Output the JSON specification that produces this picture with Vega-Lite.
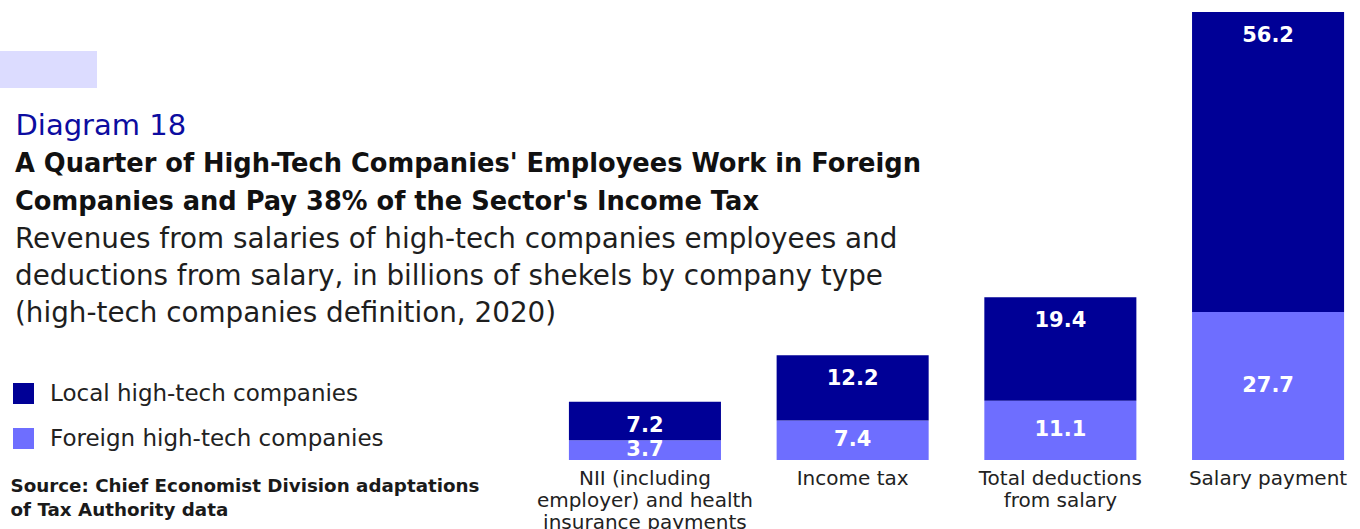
{
  "$schema": "https://vega.github.io/schema/vega-lite/v6.json",
  "width": 803,
  "height": 448,
  "autosize": {"type": "none"},
  "padding": {"left": 555, "top": 12, "right": 2, "bottom": 69},
  "background": "white",
  "config": {
    "font": "DejaVu Sans",
    "view": {"stroke": null}
  },
  "title": {
    "text": ["A Quarter of High-Tech Companies' Employees Work in Foreign", "Companies and Pay 38% of the Sector's Income Tax"],
    "subtitle": ["Revenues from salaries of high-tech companies employees and", "deductions from salary, in billions of shekels by company type", "(high-tech companies definition, 2020)"],
    "anchor": "start",
    "frame": "group",
    "orient": "top",
    "offset": 0,
    "dx": -540,
    "dy": 317,
    "font": "DejaVu Sans",
    "fontSize": 25.7,
    "fontWeight": "bold",
    "color": "#111111",
    "lineHeight": 38,
    "subtitleFont": "DejaVu Sans",
    "subtitleFontSize": 27.8,
    "subtitleFontWeight": "normal",
    "subtitleColor": "#1e1e1e",
    "subtitleLineHeight": 37,
    "subtitlePadding": 11
  },
  "data": {
    "values": [
      {"category": "NII (including employer) and health insurance payments", "type": "Foreign high-tech companies", "value": 3.7},
      {"category": "NII (including employer) and health insurance payments", "type": "Local high-tech companies", "value": 7.2},
      {"category": "Income tax", "type": "Foreign high-tech companies", "value": 7.4},
      {"category": "Income tax", "type": "Local high-tech companies", "value": 12.2},
      {"category": "Total deductions from salary", "type": "Foreign high-tech companies", "value": 11.1},
      {"category": "Total deductions from salary", "type": "Local high-tech companies", "value": 19.4},
      {"category": "Salary payment", "type": "Foreign high-tech companies", "value": 27.7},
      {"category": "Salary payment", "type": "Local high-tech companies", "value": 56.2}
    ]
  },
  "resolve": {"scale": {"y": "independent"}},
  "layer": [
    {
      "mark": {"type": "bar"},
      "encoding": {
        "x": {
          "field": "category",
          "type": "nominal",
          "sort": null,
          "scale": {"paddingInner": 0.268, "paddingOuter": 0.067},
          "axis": {
            "title": ["Source: Chief Economist Division adaptations", "of Tax Authority data"],
            "titleX": -545,
            "titleY": 17,
            "titleAlign": "left",
            "titleAnchor": null,
            "titleBaseline": "top",
            "titleFont": "DejaVu Sans",
            "titleFontSize": 18.3,
            "titleFontWeight": "bold",
            "titleColor": "#1a1a1a",
            "titleLineHeight": 24,
            "domain": false,
            "ticks": false,
            "labelAngle": 0,
            "labelFont": "DejaVu Sans",
            "labelFontSize": 20,
            "labelColor": "#222222",
            "labelPadding": 8,
            "labelLimit": 400,
            "labelOverlap": false,
            "labelBaseline": "top",
            "labelLineHeight": 22,
            "labelExpr": "datum.value == 'NII (including employer) and health insurance payments' ? ['NII (including', 'employer) and health', 'insurance payments'] : datum.value == 'Total deductions from salary' ? ['Total deductions', 'from salary'] : datum.value"
          }
        },
        "y": {
          "field": "value",
          "type": "quantitative",
          "stack": "zero",
          "scale": {"domain": [0, 83.9], "nice": false},
          "axis": {
            "title": "Diagram 18",
            "titleAngle": 0,
            "titleX": -540,
            "titleY": 113,
            "titleAlign": "left",
            "titleAnchor": null,
            "titleBaseline": "middle",
            "titleFont": "DejaVu Sans",
            "titleFontSize": 29,
            "titleFontWeight": "normal",
            "titleColor": "#0c0ca0",
            "domain": false,
            "ticks": false,
            "labels": false,
            "grid": false
          }
        },
        "color": {
          "field": "type",
          "type": "nominal",
          "scale": {"domain": ["Local high-tech companies", "Foreign high-tech companies"], "range": ["#000096", "#6e6eff"]},
          "legend": {
            "title": null,
            "orient": "none",
            "legendX": -543,
            "legendY": 370,
            "symbolType": "square",
            "symbolSize": 441,
            "symbolStrokeWidth": 0,
            "symbolOpacity": 1,
            "labelFont": "DejaVu Sans",
            "labelFontSize": 23,
            "labelColor": "#222222",
            "labelLimit": 400,
            "labelOffset": 15,
            "rowPadding": 21
          }
        },
        "order": {"field": "type", "sort": "ascending"}
      }
    },
    {
      "transform": [
        {"stack": "value", "groupby": ["category"], "sort": [{"field": "type", "order": "ascending"}], "as": ["v0", "v1"]},
        {"filter": "datum.type == 'Local high-tech companies'"}
      ],
      "mark": {"type": "text", "color": "white", "font": "DejaVu Sans", "fontWeight": "bold", "fontSize": 21, "baseline": "middle", "dy": 24},
      "encoding": {
        "x": {"field": "category", "type": "nominal", "sort": null},
        "y": {"field": "v1", "type": "quantitative", "scale": {"domain": [0, 83.9], "nice": false}, "axis": null},
        "text": {"field": "value", "type": "quantitative", "format": ".1f"}
      }
    },
    {
      "transform": [
        {"filter": "datum.type == 'Foreign high-tech companies'"}
      ],
      "mark": {"type": "text", "color": "white", "font": "DejaVu Sans", "fontWeight": "bold", "fontSize": 21, "baseline": "middle", "strokeWidth": 0},
      "encoding": {
        "x": {"field": "category", "type": "nominal", "sort": null},
        "y": {"field": "value", "type": "quantitative", "scale": {"domain": [0, 167.8], "nice": false}, "axis": null},
        "text": {"field": "value", "type": "quantitative", "format": ".1f"},
        "stroke": {
          "field": "value",
          "type": "quantitative",
          "scale": {"range": ["#dcdcff", "#dcdcff"]},
          "legend": {
            "type": "gradient",
            "title": null,
            "orient": "none",
            "direction": "horizontal",
            "legendX": -555,
            "legendY": 39,
            "padding": 0,
            "gradientLength": 97,
            "gradientThickness": 37,
            "gradientStrokeWidth": 0,
            "labels": false,
            "labelOpacity": 0,
            "labelFontSize": 1,
            "labelColor": "#ffffff"
          }
        }
      }
    }
  ]
}
